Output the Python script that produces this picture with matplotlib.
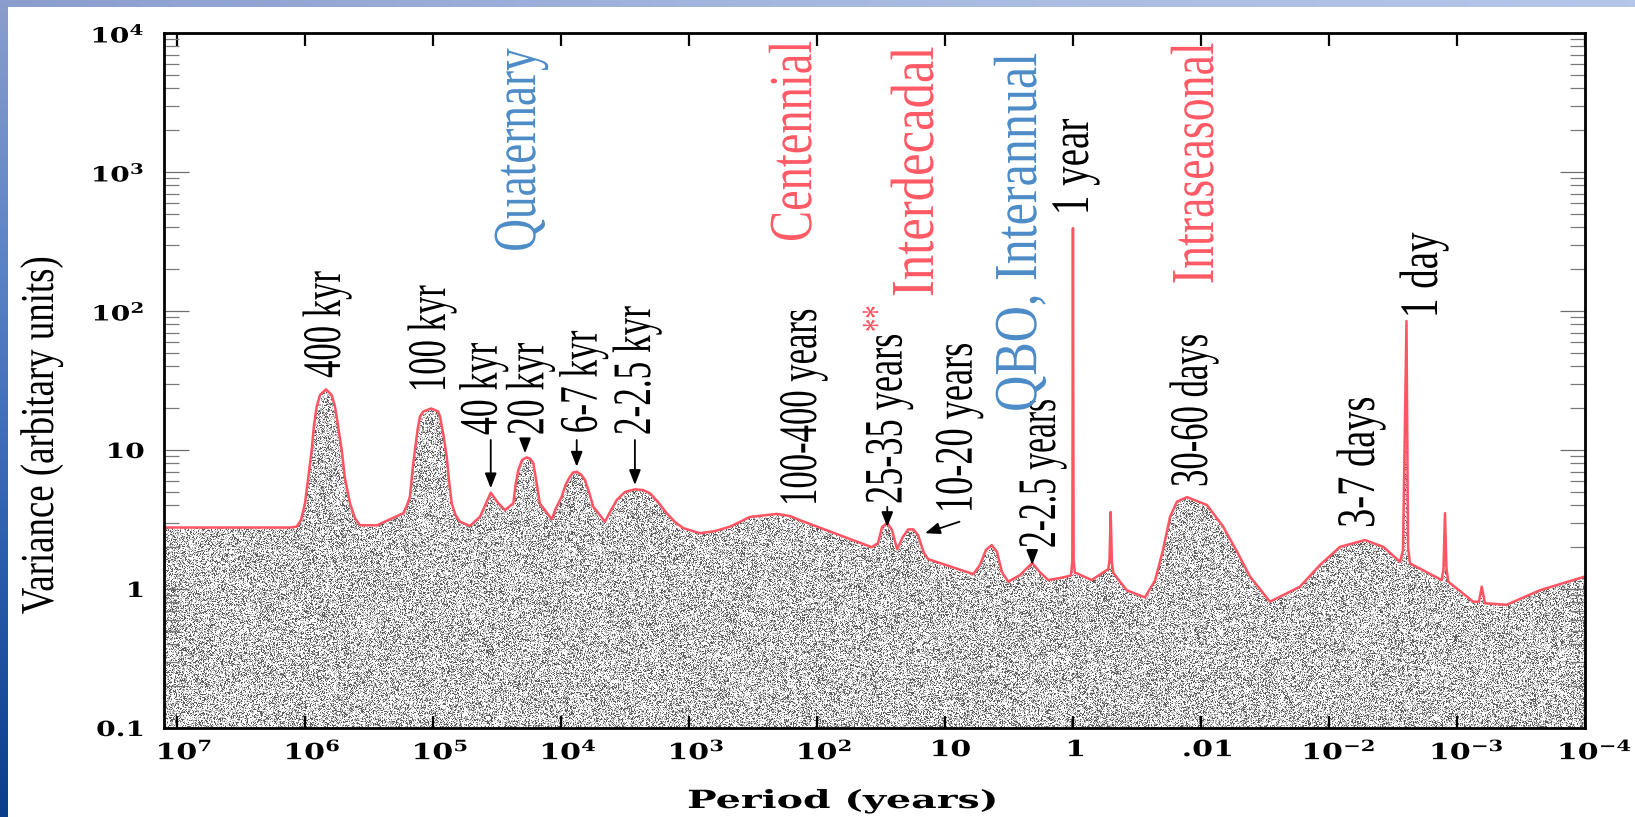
import numpy as np
import matplotlib
matplotlib.use("Agg")
import matplotlib.pyplot as plt
from matplotlib.patheffects import AbstractPathEffect
from matplotlib.transforms import Affine2D
from matplotlib.ticker import LogLocator, NullFormatter, NullLocator
from matplotlib.colors import LinearSegmentedColormap

# ---------------- data ----------------
period = [1.3e7, 1.306e6, 1.157e6, 1.071e6, 9.97e5, 9.45e5, 8.84e5, 8.48e5, 8.08e5, 7.61e5,
          6.83e5, 6.17e5, 5.81e5, 5.51e5, 5.15e5, 4.86e5, 4.44e5, 4.06e5, 3.71e5, 2.74e5,
          1.70e5, 1.591e5, 1.51e5, 1.442e5, 1.38e5, 1.318e5, 1.26e5, 1.19e5, 1.03e5, 9.07e4,
          8.79e4, 8.26e4, 7.79e4, 7.48e4, 7.13e4, 6.65e4, 6.14e4, 5.13e4, 4.28e4, 3.53e4,
          3.08e4, 2.73e4, 2.35e4, 2.26e4, 2.15e4, 2.01e4, 1.85e4, 1.727e4, 1.64e4, 1.536e4,
          1.46e4, 1.18e4, 1.09e4, 9.85e3, 9.20e3, 8.49e3, 8.04e3, 7.52e3, 6.96e3, 6.48e3,
          6.03e3, 5.58e3, 4.52e3, 4.13e3, 3.66e3, 3.155e3, 2.64e3, 2.28e3, 2.01e3, 1.743e3,
          1.49e3, 1.283e3, 1.105e3, 819, 625, 477, 333, 205, 162, 136,
          37.3, 33.3, 31.0, 28.2, 25.9, 23.6, 21.3, 19.4, 17.7, 16.2,
          14.6, 13.5, 6.00, 5.32, 4.78, 4.31, 3.92, 3.58, 3.20, 2.59,
          2.08, 1.81, 1.56, 1.26, 1.07, 1.035, 1.011, 1.0, 0.987, 0.964,
          0.935, 0.714, 0.530, 0.518, 0.507, 0.496, 0.484, 0.429, 0.380, 0.274,
          0.2286, 0.198, 0.1745, 0.1539, 0.1285, 0.0897, 0.0673, 0.0523, 0.0414, 0.0289,
          0.01684, 0.01175, 0.0082, 0.00523, 0.00376, 0.00279, 0.00264, 0.00248, 0.00241, 0.00233,
          0.001317, 0.001275, 0.001241, 0.001208, 0.001169, 0.000746, 0.000673, 0.000641, 0.000604, 0.000409,
          0.000225, 0.0001, 0.00009]
variance = [2.77, 2.77, 2.81, 3.14, 4.14, 6.08, 10.0, 15.1, 20.5, 24.9,
            27.3, 24.9, 20.5, 15.1, 10.0, 6.29, 4.14, 3.24, 2.88, 2.87,
            3.51, 4.02, 4.61, 7.18, 10.0, 13.9, 17.4, 18.9, 19.9, 18.9,
            17.4, 12.8, 8.96, 6.08, 4.14, 3.41, 3.05, 2.84, 3.31, 4.93,
            4.14, 3.70, 4.14, 5.60, 7.18, 8.47, 8.85, 8.62, 8.02, 5.60,
            4.14, 3.17, 3.83, 4.61, 5.60, 6.43, 6.89, 6.98, 6.66, 6.08,
            4.99, 3.91, 3.05, 3.58, 4.37, 4.99, 5.21, 5.15, 4.88, 4.23,
            3.51, 3.03, 2.74, 2.52, 2.61, 2.81, 3.30, 3.47, 3.35, 3.13,
            2.00, 2.14, 2.79, 3.00, 2.65, 1.93, 2.37, 2.68, 2.69, 2.44,
            1.82, 1.64, 1.28, 1.49, 1.91, 2.07, 1.85, 1.32, 1.13, 1.26,
            1.54, 1.32, 1.16, 1.20, 1.24, 1.26, 1.6, 395, 1.6, 1.30,
            1.30, 1.16, 1.39, 1.6, 3.58, 1.55, 1.31, 1.13, 0.98, 0.87,
            1.15, 1.9, 3.3, 4.25, 4.58, 4.02, 2.82, 1.86, 1.23, 0.81,
            1.04, 1.49, 2.01, 2.25, 2.01, 1.57, 1.9, 84.7, 2.0, 1.53,
            1.16, 1.4, 3.51, 1.4, 1.13, 0.81, 0.81, 1.04, 0.79, 0.77,
            0.98, 1.23, 1.25]

xtick_values = [1e7, 1e6, 1e5, 1e4, 1e3, 1e2, 1e1, 1e0, 1e-1, 1e-2, 1e-3, 1e-4]
xtick_labels = [r"$10^{7}$", r"$10^{6}$", r"$10^{5}$", r"$10^{4}$", r"$10^{3}$", r"$10^{2}$",
                "10", "1", ".01", r"$10^{-2}$", r"$10^{-3}$", r"$10^{-4}$"]
ytick_values = [0.1, 1, 10, 100, 1000, 10000]
ytick_labels = ["0.1", "1", "10", r"$10^{2}$", r"$10^{3}$", r"$10^{4}$"]

# peak labels: text, period, variance (anchor = start of rotated text)
peak_text = ["400 kyr", "100 kyr", "40 kyr", "20 kyr", "6-7 kyr", "2-2.5 kyr",
             "100-400 years", "25-35 years", "10-20 years", "2-2.5 years",
             "1 year", "30-60 days", "3-7 days", "1 day"]
peak_text_period = [5.31e5, 8.04e4, 3.17e4, 1.37e4, 5.25e3, 2.01e3,
                    101.6, 21.8, 6.18, 1.38,
                    0.763, 0.0897, 0.00445, 0.001433]
peak_text_variance = [33.0, 26.1, 12.8, 12.8, 13.2, 12.8,
                      3.96, 4.09, 3.52, 1.97,
                      490, 5.42, 2.75, 89.0]
peak_text_squeeze = [0.64, 0.64, 0.66, 0.66, 0.65, 0.65,
                     0.64, 0.67, 0.67, 0.62,
                     0.72, 0.64, 0.71, 0.72]

band_text = ["Quaternary", "Centennial", "Interdecadal", "QBO, Interannual", "Intraseasonal"]
band_period = [1.59e4, 111, 12.4, 1.94, 0.0805]
band_variance = [267, 314, 126, 18.8, 156]
band_color = ["#4d8cc6", "#ff5a66", "#ff5a66", "#4d8cc6", "#ff5a66"]
band_squeeze = [0.74, 0.76, 0.83, 0.82, 0.75]

# arrows: tip and start positions
arrow_tip_period = [3.53e4, 1.905e4, 7.52e3, 2.64e3, 28.2, 14.3, 2.08]
arrow_tip_variance = [5.30, 9.47, 7.58, 5.60, 2.79, 2.52, 1.49]
arrow_start_period = [3.53e4, 1.905e4, 7.52e3, 2.64e3, 28.2, 7.69, 2.08]
arrow_start_variance = [11.8, 11.8, 11.8, 11.8, 3.90, 3.05, 1.91]

RED = "#ff5563"


class Scale(AbstractPathEffect):
    """Scale the glyph outlines (text x = reading direction, y = glyph height)."""
    def __init__(self, sx=1.0, sy=1.0, anchor=0.0):
        super().__init__()
        self.sx = sx
        self.sy = sy
        self.anchor = anchor

    def draw_path(self, renderer, gc, tpath, affine, rgbFace=None):
        ext = tpath.get_extents()
        x0 = self.anchor * ext.x1
        pre = Affine2D().translate(-x0, 0).scale(self.sx, self.sy).translate(x0, 0)
        renderer.draw_path(gc, tpath, pre + affine, rgbFace)


plt.rcParams.update({
    "mathtext.fontset": "custom",
    "mathtext.rm": "DejaVu Serif:bold",
    "mathtext.it": "DejaVu Serif:bold:italic",
    "mathtext.bf": "DejaVu Serif:bold",
    "mathtext.default": "rm",
})

W_PX, H_PX = 1635, 817
fig = plt.figure(figsize=(W_PX / 100, H_PX / 100), dpi=100)
fig.patch.set_facecolor("white")

# slide frame (blue gradient strips at top and left)
bg = fig.add_axes([0, 0, 1, 1], zorder=-10)
bg.axis("off")
cm_top = LinearSegmentedColormap.from_list("top", ["#8a9ecd", "#a7b8e0", "#b6c5ea"])
cm_left = LinearSegmentedColormap.from_list("left", ["#8a9ecd", "#5a82c6", "#2d5fb0", "#0b3d8d"])
bg.imshow(np.linspace(0, 1, 256)[None, :], cmap=cm_top, extent=(0, W_PX, 7, 0), aspect="auto")
bg.imshow(np.linspace(0, 1, 256)[:, None], cmap=cm_left, extent=(0, 8, H_PX, 0), aspect="auto")
bg.set_xlim(0, W_PX)
bg.set_ylim(H_PX, 0)

# main axes
ax_l, ax_r, ax_t, ax_b = 164, 1585, 33, 728
ax = fig.add_axes([ax_l / W_PX, 1 - ax_b / H_PX, (ax_r - ax_l) / W_PX, (ax_b - ax_t) / H_PX])
ax.set_xscale("log")
ax.set_yscale("log")
ax.set_xlim(10 ** 7.1, 1e-4)
ax.set_ylim(0.1, 1e4)

# stippled fill under the spectrum (decorative texture clipped to the area)
Hh, Ww = ax_b - ax_t, ax_r - ax_l
jj, ii = np.mgrid[0:Hh, 0:Ww]
h = np.sin(ii * 12.9898 + jj * 78.233) * 43758.5453
frac = h - np.floor(h)
stipple = np.select([frac < 0.22, frac < 0.48], [0.36, 0.70], 0.98)
im = ax.imshow(stipple, cmap="gray", vmin=0, vmax=1, extent=(0, 1, 0, 1),
               transform=ax.transAxes, aspect="auto", interpolation="nearest", zorder=1)
area = ax.fill_between(period, 0.01, variance, facecolor="none", edgecolor="none", zorder=0)
im.set_clip_path(area.get_paths()[0], ax.transData)

ax.plot(period, variance, color=RED, lw=1.8, zorder=3, solid_joinstyle="round")

# ticks
ax.set_xticks(xtick_values)
ax.set_xticklabels(xtick_labels)
ax.xaxis.set_minor_locator(NullLocator())
ax.set_yticks(ytick_values)
ax.set_yticklabels(ytick_labels)
ax.yaxis.set_minor_locator(LogLocator(base=10, subs=np.arange(2, 10)))
ax.yaxis.set_minor_formatter(NullFormatter())
ax.tick_params(axis="x", which="major", direction="in", length=9, width=1.6,
               top=True, bottom=True, pad=8, labelsize=16, color="black")
ax.tick_params(axis="y", which="major", direction="in", length=18, width=0.9,
               left=True, right=True, pad=14, labelsize=15, color="#6e6e6e")
ax.tick_params(axis="y", which="minor", direction="in", length=11, width=0.9,
               left=True, right=True, color="#7a7a7a")
for lbl in ax.get_xticklabels():
    lbl.set_fontfamily("DejaVu Serif")
    lbl.set_fontweight("bold")
    lbl.set_path_effects([Scale(1.35, 1.0, 0.0)])
for lbl in ax.get_yticklabels():
    lbl.set_fontfamily("DejaVu Serif")
    lbl.set_fontweight("bold")
    lbl.set_path_effects([Scale(1.35, 1.0, 1.0)])
for sp in ax.spines.values():
    sp.set_linewidth(2.0)
    sp.set_zorder(5)

# axis labels
ax.set_xlabel("Period (years)", fontfamily="DejaVu Serif", fontweight="bold", fontsize=18,
              ha="center", va="baseline", path_effects=[Scale(1.58, 1.0, 0.5)])
ax.xaxis.set_label_coords((842 - ax_l) / Ww, (ax_b - 808) / Hh)
q_ylab = 0.78
ax.set_ylabel("Variance (arbitary units)", fontfamily="Liberation Serif", fontsize=34 * q_ylab,
              rotation=90, rotation_mode="anchor", ha="center", va="baseline",
              path_effects=[Scale(1.0, 1.0 / q_ylab)])
ax.yaxis.set_label_coords((53 - ax_l) / Ww, (ax_b - 435) / Hh)

# peak labels (condensed serif: smaller size, glyphs stretched across the line)
for s, p, v, q in zip(peak_text, peak_text_period, peak_text_variance, peak_text_squeeze):
    ax.text(p, v, s, rotation=90, rotation_mode="anchor", ha="left", va="baseline",
            fontfamily="Liberation Serif", fontsize=39 * q, color="black", zorder=6,
            path_effects=[Scale(1.0, 1.0 / q)])
ax.text(26.8, 70.6, "**", rotation=90, rotation_mode="anchor", ha="left", va="baseline",
        fontfamily="Liberation Serif", fontsize=30 * 0.64, color=RED, zorder=6,
        path_effects=[Scale(1.0, 1.0 / 0.64)])

# band labels
for s, p, v, c, q in zip(band_text, band_period, band_variance, band_color, band_squeeze):
    ax.text(p, v, s, rotation=90, rotation_mode="anchor", ha="left", va="baseline",
            fontfamily="Liberation Serif", fontsize=44 * q, color=c, zorder=6,
            path_effects=[Scale(1.0, 1.0 / q)])

# arrows
for tp, tv, sp_, sv in zip(arrow_tip_period, arrow_tip_variance, arrow_start_period, arrow_start_variance):
    ax.annotate("", xy=(tp, tv), xytext=(sp_, sv),
                arrowprops=dict(arrowstyle="-|>,head_length=0.9,head_width=0.35", color="black",
                                lw=1.3, shrinkA=0, shrinkB=0, mutation_scale=10), zorder=6)

fig.savefig("out.png", dpi=100)
